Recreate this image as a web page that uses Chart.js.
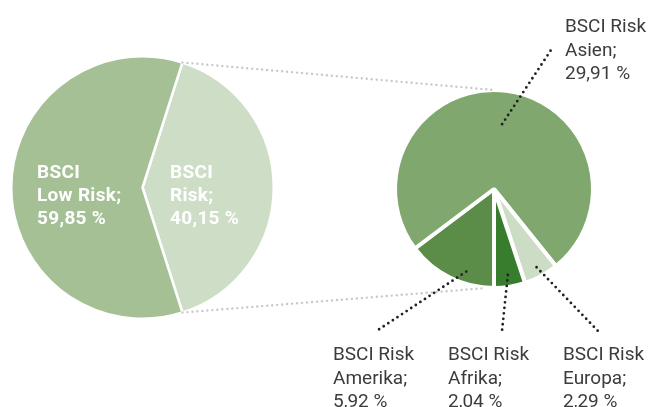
<!DOCTYPE html>
<html>
<head>
<meta charset="utf-8">
<script src="https://cdn.jsdelivr.net/npm/chart.js@4.4.0/dist/chart.umd.min.js"></script>
<style>
html, body { margin: 0; padding: 0; background: #fff; }
#wrap { position: relative; width: 654px; height: 407px; }
#wrap canvas { position: absolute; left: 0; top: 0; }
</style>
</head>
<body>
<div id="wrap">
  <canvas id="pieMain" width="654" height="407"></canvas>
  <canvas id="pieRisk" width="654" height="407"></canvas>
</div>
<script>
// left pie: risk share of all suppliers
var mainLabels = [['BSCI', 'Risk;'], ['BSCI', 'Low Risk;']];
var mainValues = [40.15, 59.85];
var mainColors = ['#cedec6', '#a4c094'];

// right pie: the risk share split by region
var riskLabels = [['BSCI Risk', 'Amerika;'], ['BSCI Risk', 'Asien;'], ['BSCI Risk', 'Europa;'], ['BSCI Risk', 'Afrika;']];
var riskValues = [5.92, 29.91, 2.29, 2.04];
var riskColors = ['#5b8c48', '#80a86e', '#cddcc5', '#387c2d'];

function fmt(v) {
    return v.toFixed(2).replace('.', ',') + ' %';
}

// text placement (layout only)
var mainTextPos = [{x: 170, y: 178}, {x: 37, y: 178}];
var riskTextPos = [
    {x: 333, y: 360, ex: 375, ey: 332, frac: 0.35, rr: 0.88},
    {x: 565, y: 32, ex: 553, ey: 47, frac: 0.5, rr: 0.66},
    {x: 563, y: 360, ex: 598, ey: 331, frac: 0.5, rr: 0.9},
    {x: 448, y: 360, ex: 502, ey: 331, frac: 0.5, rr: 0.88}
];
var lineH = 23.5;

var mainLabelPlugin = {
    id: 'mainLabels',
    afterDraw: function(chart) {
        var ctx = chart.ctx;
        ctx.save();
        ctx.fillStyle = '#ffffff';
        ctx.font = 'bold 19px Roboto';
        ctx.letterSpacing = '0.3px';
        ctx.textBaseline = 'alphabetic';
        ctx.textAlign = 'left';
        for (var i = 0; i < mainValues.length; i++) {
            var p = mainTextPos[i];
            var lines = mainLabels[i].concat([fmt(mainValues[i])]);
            for (var j = 0; j < lines.length; j++) {
                ctx.fillText(lines[j], p.x, p.y + j * 23);
            }
        }
        ctx.restore();
    }
};

function dotted(ctx, x1, y1, x2, y2, color, w, gap) {
    ctx.save();
    ctx.strokeStyle = color;
    ctx.lineWidth = w;
    ctx.lineCap = 'round';
    ctx.setLineDash([0, gap]);
    ctx.beginPath();
    ctx.moveTo(x1, y1);
    ctx.lineTo(x2, y2);
    ctx.stroke();
    ctx.restore();
}

var mainChart = new Chart(document.getElementById('pieMain'), {
    type: 'pie',
    data: {
        labels: mainLabels,
        datasets: [{
            data: mainValues,
            backgroundColor: mainColors,
            borderColor: '#ffffff',
            borderWidth: 2.5,
            hoverOffset: 0
        }]
    },
    options: {
        responsive: false,
        animation: false,
        events: [],
        rotation: 90 - mainValues[0] / (mainValues[0] + mainValues[1]) * 180,
        layout: { padding: { left: 10, right: 379, top: 55, bottom: 87 } },
        plugins: { legend: { display: false }, tooltip: { enabled: false } }
    },
    plugins: [mainLabelPlugin]
});

var riskLabelPlugin = {
    id: 'riskLabels',
    afterDraw: function(chart) {
        var ctx = chart.ctx;
        var arcs = chart.getDatasetMeta(0).data;
        var c = arcs[0];
        // connectors from the left pie's risk slice to the right pie
        var big = mainChart.getDatasetMeta(0).data[0];
        dotted(ctx, big.x + big.outerRadius * Math.cos(big.startAngle), big.y + big.outerRadius * Math.sin(big.startAngle),
            c.x, c.y - c.outerRadius, '#c8c8c8', 2.4, 5);
        dotted(ctx, big.x + big.outerRadius * Math.cos(big.endAngle), big.y + big.outerRadius * Math.sin(big.endAngle),
            c.x - 8, c.y + c.outerRadius, '#c8c8c8', 2.4, 5);
        ctx.save();
        ctx.fillStyle = '#3c3c3c';
        ctx.font = '19px Roboto';
        ctx.textAlign = 'left';
        for (var i = 0; i < arcs.length; i++) {
            var a = arcs[i];
            var p = riskTextPos[i];
            var ang = a.startAngle + (a.endAngle - a.startAngle) * p.frac;
            var sx = a.x + a.outerRadius * p.rr * Math.cos(ang);
            var sy = a.y + a.outerRadius * p.rr * Math.sin(ang);
            dotted(ctx, sx, sy, p.ex, p.ey, '#222222', 2.8, 5.5);
            var lines = riskLabels[i].concat([fmt(riskValues[i])]);
            for (var j = 0; j < lines.length; j++) {
                ctx.fillText(lines[j], p.x, p.y + j * lineH);
            }
        }
        ctx.restore();
    }
};

var riskChart = new Chart(document.getElementById('pieRisk'), {
    type: 'pie',
    data: {
        labels: riskLabels,
        datasets: [{
            data: riskValues,
            backgroundColor: riskColors,
            borderColor: '#ffffff',
            borderWidth: 4,
            hoverOffset: 0
        }]
    },
    options: {
        responsive: false,
        animation: false,
        events: [],
        rotation: 180,
        layout: { padding: { left: 393, right: 59, top: 88, bottom: 117 } },
        plugins: { legend: { display: false }, tooltip: { enabled: false } }
    },
    plugins: [riskLabelPlugin]
});
</script>
</body>
</html>
